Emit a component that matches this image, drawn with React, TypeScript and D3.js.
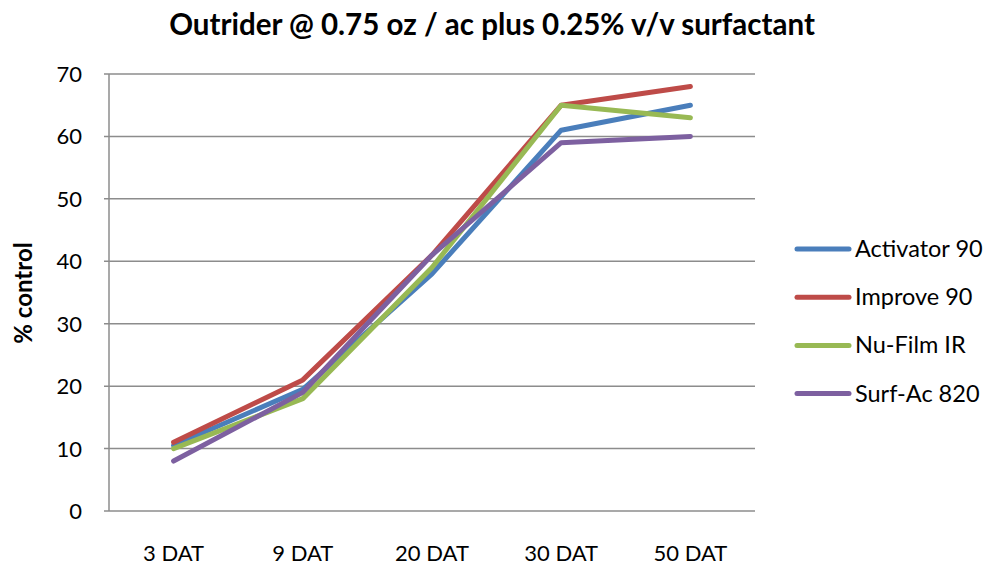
import React from 'react';
import * as d3 from 'd3';

const categories = ['3 DAT', '9 DAT', '20 DAT', '30 DAT', '50 DAT'];
const seriesNames = ['Activator 90', 'Improve 90', 'Nu-Film IR', 'Surf-Ac 820'];
const activator = [10.5, 19.5, 38, 61, 65];
const improve = [11, 21, 41, 65, 68];
const nuFilm = [10, 18, 39, 65, 63];
const surfAc = [8, 19, 41, 59, 60];
const yTicks = [0, 10, 20, 30, 40, 50, 60, 70];
const colors = ['#4A7EBB', '#BE4B48', '#98B954', '#7D60A0'];

const W = 990;
const H = 567;
const font = 'Lato, "Open Sans", sans-serif';

export default function App() {
  const series = [activator, improve, nuFilm, surfAc];
  const x = d3.scaleBand<string>().domain(categories).range([109, 755]);
  const y = d3.scaleLinear().domain([0, 70]).range([511, 74]);
  const line = d3
    .line<number>()
    .x((_, i) => (x(categories[i]) as number) + x.bandwidth() / 2)
    .y(d => y(d));

  return (
    <svg width={W} height={H} style={{ position: 'absolute', left: 0, top: 0, background: '#fff' }}>
      <text x={492} y={35} textAnchor="middle" fontFamily={font} fontWeight="bold" fontSize={29.5}>
        Outrider @ 0.75 oz / ac plus 0.25% v/v surfactant
      </text>

      {/* grid */}
      {yTicks.map(t => (
        <g key={t}>
          {t > 0 && (
            <line x1={104} x2={755} y1={y(t)} y2={y(t)} stroke="#8c8c8c" strokeWidth={1.5} />
          )}
          <text x={82} y={y(t) + 8} textAnchor="end" fontFamily={font} fontSize={22} fill="#000">
            {t}
          </text>
        </g>
      ))}
      <line x1={109} x2={109} y1={74} y2={511} stroke="#8c8c8c" strokeWidth={1.5} />
      <line x1={104} x2={755} y1={511} y2={511} stroke="#8c8c8c" strokeWidth={1.5} />

      {categories.map(c => (
        <text
          key={c}
          x={(x(c) as number) + x.bandwidth() / 2}
          y={561}
          textAnchor="middle"
          fontFamily={font}
          fontSize={22}
        >
          {c}
        </text>
      ))}

      <text
        transform="translate(32,293) rotate(-90)"
        textAnchor="middle"
        fontFamily={font}
        fontWeight="bold"
        fontSize={24}
      >
        % control
      </text>

      {series.map((s, i) => (
        <path
          key={seriesNames[i]}
          d={line(s) as string}
          fill="none"
          stroke={colors[i]}
          strokeWidth={5}
          strokeLinecap="round"
          strokeLinejoin="round"
        />
      ))}

      {seriesNames.map((n, i) => {
        const ly = 249 + i * 48.2;
        return (
          <g key={n}>
            <line x1={797} x2={849} y1={ly} y2={ly} stroke={colors[i]} strokeWidth={5} strokeLinecap="round" />
            <text x={855} y={ly + 8} fontFamily={font} fontSize={23.5}>
              {n}
            </text>
          </g>
        );
      })}
    </svg>
  );
}
